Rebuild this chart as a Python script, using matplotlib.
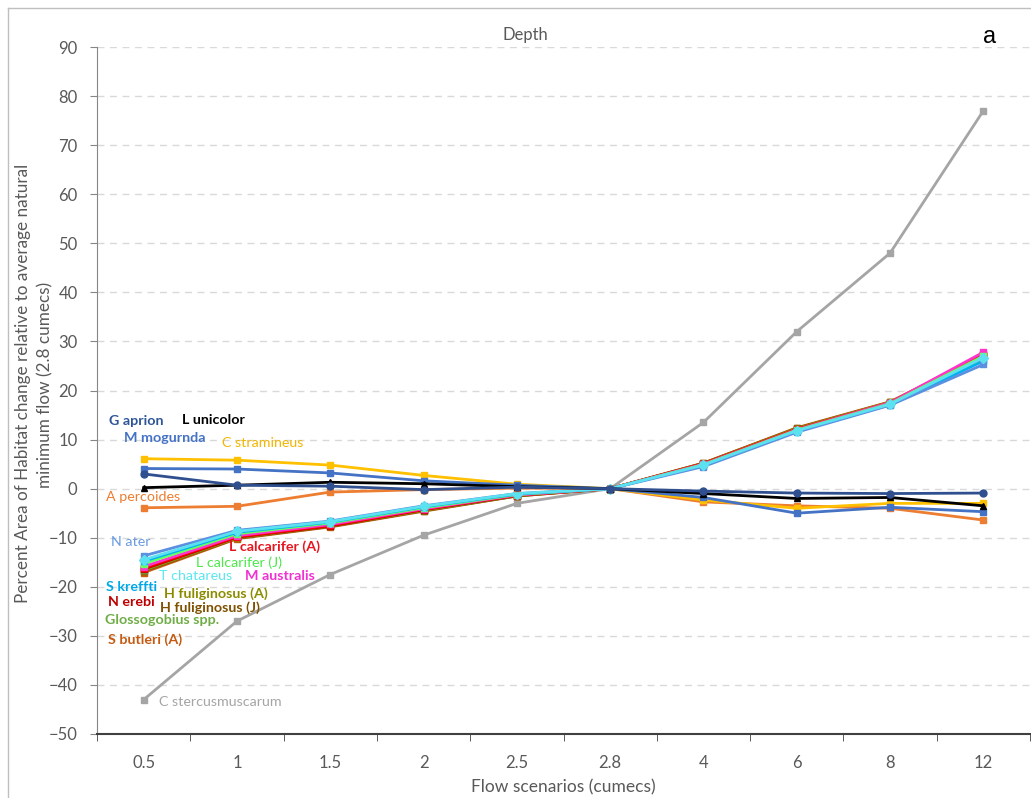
import numpy as np
import matplotlib
matplotlib.use('Agg')
import matplotlib.pyplot as plt
from matplotlib.lines import Line2D

plt.rcParams['font.family'] = ['Lato', 'DejaVu Sans']

# flow scenarios (categorical x axis)
flows = ['0.5', '1', '1.5', '2', '2.5', '2.8', '4', '6', '8', '12']

# percent habitat change per species
g_aprion = [3.0, 0.7, 0.5, -0.2, 0.3, 0, -0.5, -0.9, -1.0, -0.9]
m_mogurnda = [4.1, 4.0, 3.2, 1.6, 0.7, 0, -1.8, -5.0, -3.8, -4.7]
l_unicolor = [0.2, 0.7, 1.3, 1.0, 0.4, 0, -1.0, -2.0, -1.8, -3.5]
c_stramineus = [6.1, 5.8, 4.8, 2.7, 0.9, 0, -2.3, -4.0, -3.0, -3.0]
a_percoides = [-3.9, -3.6, -0.7, -0.2, 0.1, 0, -2.7, -3.5, -4.0, -6.4]
c_stercus = [-43, -27, -17.5, -9.5, -3, 0, 13.5, 32, 48, 77]
s_butleri = [-17.1, -10.2, -7.8, -4.6, -1.5, 0, 5.2, 12.4, 17.7, 27.2]
h_fulig_j = [-16.8, -10.1, -7.7, -4.5, -1.5, 0, 5.2, 12.3, 17.6, 26.8]
h_fulig_a = [-16.6, -10.0, -7.6, -4.4, -1.4, 0, 5.1, 12.2, 17.6, 27.0]
glosso = [-16.5, -9.9, -7.5, -4.3, -1.4, 0, 5.0, 12.1, 17.5, 26.5]
n_erebi = [-16.4, -9.9, -7.6, -4.3, -1.4, 0, 5.0, 12.0, 17.4, 27.3]
l_calc_a = [-16.2, -9.8, -7.5, -4.2, -1.3, 0, 5.1, 12.1, 17.5, 27.5]
m_australis = [-15.9, -9.6, -7.3, -4.1, -1.3, 0, 5.0, 12.0, 17.5, 27.8]
l_calc_j = [-15.3, -9.2, -7.0, -3.9, -1.2, 0, 4.9, 11.9, 17.3, 27.0]
s_krefftii = [-14.8, -8.9, -6.8, -3.7, -1.1, 0, 4.7, 11.7, 17.1, 26.0]
t_chatareus = [-14.5, -8.7, -6.7, -3.6, -1.0, 0, 4.8, 11.8, 17.2, 26.7]
n_ater = [-13.7, -8.5, -6.6, -3.5, -1.0, 0, 4.5, 11.5, 17.0, 25.3]

# (values, line colour, marker) in drawing order
series = [
    (c_stercus, '#A5A5A5', 's'),
    (s_butleri, '#C55A11', 's'),
    (h_fulig_j, '#7F6000', 's'),
    (h_fulig_a, '#9E9E00', 's'),
    (glosso, '#70AD47', 's'),
    (n_erebi, '#C00000', 's'),
    (l_calc_a, '#FF0000', 's'),
    (m_australis, '#FF33CC', 's'),
    (l_calc_j, '#66FF66', 's'),
    (s_krefftii, '#00B0F0', 's'),
    (n_ater, '#5B8FE0', 's'),
    (t_chatareus, '#5CE1F0', 'D'),
    (a_percoides, '#ED7D31', 's'),
    (c_stramineus, '#FFC000', 's'),
    (m_mogurnda, '#4472C4', 's'),
    (l_unicolor, '#000000', '^'),
    (g_aprion, '#2F4F8F', 'o'),
]

# data labels: text, colour, x (category index), y, bold
labels = [
    ('G aprion', '#2F5597', -0.375, 13.7, True),
    ('L unicolor', '#000000', 0.407, 13.9, True),
    ('M mogurnda', '#4472C4', -0.214, 10.4, True),
    ('C stramineus', '#F2B600', 0.836, 9.2, False),
    ('A percoides', '#ED7D31', -0.407, -1.8, False),
    ('N ater', '#6A9BE0', -0.354, -10.8, False),
    ('L calcarifer (A)', '#E8141E', 0.911, -11.8, True),
    ('L calcarifer (J)', '#4CE84C', 0.557, -15.1, False),
    ('T chatareus', '#5CE6F0', 0.161, -17.9, False),
    ('M australis', '#F030D0', 1.082, -17.9, True),
    ('S kreffti', '#00A8E8', -0.407, -20.0, True),
    ('H fuliginosus (A)', '#8C8C00', 0.214, -21.4, True),
    ('N erebi', '#C00000', -0.386, -23.2, True),
    ('H fuliginosus (J)', '#7F5000', 0.171, -24.3, True),
    ('Glossogobius spp.', '#70AD47', -0.418, -26.7, True),
    ('S butleri (A)', '#C55A11', -0.386, -30.8, True),
    ('C stercusmuscarum', '#A5A5A5', 0.161, -43.4, False),
]

fig = plt.figure(figsize=(10.31, 7.98), dpi=100)
ax = fig.add_axes([97 / 1031, 64 / 798, 933 / 1031, 687 / 798])

x = np.arange(len(flows))
for vals, col, mk in series:
    ax.plot(x, vals, color=col, lw=2, marker=mk, ms=5, mec=col, mfc=col)

for txt, col, lx, ly, bold in labels:
    ax.text(lx, ly, txt, color=col, fontsize=10.3, ha='left', va='center',
            fontweight='bold' if bold else 'normal')

ax.set_xlim(-0.5, len(flows) - 0.5)
ax.set_ylim(-50, 90)
ax.set_yticks(np.arange(-50, 91, 10))
ax.set_xticks(x)
ax.set_xticklabels(flows)
ax.set_xticks(np.arange(-0.5, len(flows), 1), minor=True)
ax.tick_params(axis='x', which='major', length=0, pad=15, labelsize=12, labelcolor='#595959')
ax.tick_params(axis='x', which='minor', length=5, direction='out', color='#404040')
ax.tick_params(axis='y', length=5, direction='out', color='#868686', labelsize=12,
               labelcolor='#595959', pad=9)

ax.grid(axis='y', color='#D9D9D9', ls=(0, (5, 4)), lw=1)
ax.set_axisbelow(True)
for s in ['top', 'right']:
    ax.spines[s].set_visible(False)
ax.spines['left'].set_color('#868686')
ax.spines['bottom'].set_color('#404040')
ax.spines['bottom'].set_linewidth(1.5)

ax.set_xlabel('Flow scenarios (cumecs)', color='#595959', fontsize=12.5, labelpad=6)

# y label: two rotated lines, size fitted so the first line is ~437 px long
ylab1 = 'Percent Area of Habitat change relative to average natural'
ylab2 = 'minimum flow (2.8 cumecs)'
r = fig.canvas.get_renderer()
t1 = fig.text(23 / 1031, 1 - 383 / 798, ylab1, rotation=90, ha='center', va='center',
              color='#595959', fontsize=10)
fs = 10 * 437 / t1.get_window_extent(r).height
t1.set_fontsize(fs)
fig.text(45 / 1031, 1 - 385 / 798, ylab2, rotation=90, ha='center', va='center',
         color='#595959', fontsize=fs)

fig.text(525 / 1031, 1 - 35 / 798, 'Depth', ha='center', va='center',
         color='#595959', fontsize=12)
fig.text(990 / 1031, 1 - 37 / 798, 'a', ha='center', va='center',
         color='#000000', fontsize=17, family='Liberation Sans')

# outer chart frame (only left and top edges are inside the picture)
fig.add_artist(Line2D([8 / 1031, 8 / 1031], [0, 1 - 8 / 798], color='#BFBFBF', lw=1))
fig.add_artist(Line2D([8 / 1031, 1], [1 - 8 / 798, 1 - 8 / 798], color='#BFBFBF', lw=1))

fig.savefig('out.png', dpi=100)
